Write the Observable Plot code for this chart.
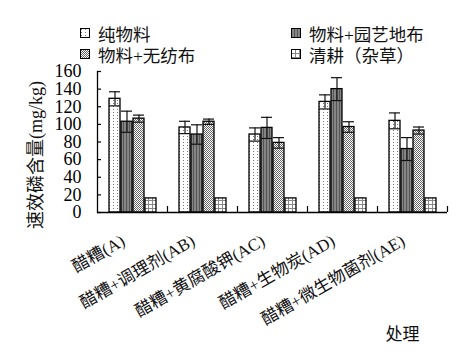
<!DOCTYPE html>
<html><head><meta charset="utf-8">
<script src="https://cdn.jsdelivr.net/npm/d3@7"></script>
<script src="https://cdn.jsdelivr.net/npm/@observablehq/plot@0.6"></script>
<style>
body{margin:0;background:#fff;}
#wrap{position:relative;width:460px;height:352px;overflow:hidden;}
.leg{position:absolute;display:flex;align-items:center;height:22px;font:17.5px "Liberation Serif","Noto Sans CJK SC",serif;color:#111;white-space:nowrap;}
.leg svg{margin-right:8px;}
#ylab{position:absolute;left:34px;top:155px;transform:translate(-50%,-50%) rotate(-90deg);font:18px "Liberation Serif","Noto Sans CJK SC",serif;color:#111;white-space:nowrap;}
</style></head><body><div id="wrap"></div>
<script>
const categories = ["醋糟(A)","醋糟+调理剂(AB)","醋糟+黄腐酸钾(AC)","醋糟+生物炭(AD)","醋糟+微生物菌剂(AE)"];
const seriesNames = ["纯物料","物料+园艺地布","物料+无纺布","清耕（杂草）"];
const pureMaterial = [129, 96.5, 88.5, 125.5, 104];
const gardenCloth  = [103, 88.5, 96, 140, 72];
const nonWoven     = [106.5, 103, 79, 97, 93];
const clearTillage = [16, 16, 16, 16, 16];
const errPure      = [8, 7, 7.5, 8, 9];
const errGarden    = [12, 11, 12, 13, 13];
const errNonWoven  = [4, 3, 6, 6, 4];
const errClear     = [0, 0, 0, 0, 0];
const yTicks = [0, 20, 40, 60, 80, 100, 120, 140, 160];
const yLabel = "速效磷含量(mg/kg)";
const xLabel = "处理";

const values = [pureMaterial, gardenCloth, nonWoven, clearTillage];
const errs = [errPure, errGarden, errNonWoven, errClear];
const rows = [];
categories.forEach((c, i) => seriesNames.forEach((s, j) => rows.push({cat: c, series: s, value: values[j][i], err: errs[j][i]})));
const errRows = rows.filter(d => d.err > 0);
const patterns = ["url(#p0)", "url(#p1)", "url(#p2)", "url(#p3)"];
const FONT = '"Liberation Serif","Noto Sans CJK SC",serif';

const chart = Plot.plot({
  width: 460, height: 352,
  marginLeft: 97, marginRight: 13, marginTop: 71, marginBottom: 140,
  style: {fontFamily: FONT, fontSize: "18px", color: "#000", background: "#fff"},
  fx: {domain: categories, padding: 0, axis: null},
  x: {domain: seriesNames, paddingInner: 0.1, paddingOuter: 0.9, axis: null},
  y: {domain: [0, 160], axis: null},
  color: {domain: seriesNames, range: patterns},
  marks: [
    Plot.barY(rows, {fx: "cat", x: "series", y: "value", fill: "series", stroke: "#000", strokeWidth: 1.3}),
    Plot.ruleX(errRows, {fx: "cat", x: "series", y1: d => d.value - d.err, y2: d => d.value + d.err, stroke: "#111", strokeWidth: 1.2}),
    Plot.tickY(errRows, {fx: "cat", x: "series", y: d => d.value + d.err, stroke: "#111", strokeWidth: 1.2}),
    Plot.tickY(errRows, {fx: "cat", x: "series", y: d => d.value - d.err, stroke: "#111", strokeWidth: 1.2}),
    Plot.ruleY([0], {stroke: "#000", strokeWidth: 1.3}),
    Plot.frame({anchor: "left", facetAnchor: "left", stroke: "#000", strokeWidth: 1.3}),
    Plot.axisY(yTicks, {tickSize: 0, tickPadding: 16, fontSize: 18, fill: "#000", label: null}),
    Plot.axisY(yTicks, {tickSize: -4, text: null, label: null, stroke: "#000", strokeWidth: 1.2}),
    Plot.axisFx({anchor: "bottom", tickSize: -6, text: null, label: null, dx: 35, stroke: "#000", strokeWidth: 1.2}),
    Plot.axisFx({anchor: "bottom", tickSize: 0, tickPadding: 27, tickRotate: -30, fontSize: 17, dx: -9, label: null, fill: "#111"}),
    Plot.text([xLabel], {fx: [categories[categories.length - 1]], text: d => d, frameAnchor: "bottom", dx: -10, dy: 127, fontSize: 17, fill: "#111"})
  ]
});

const defs = `
<pattern id="p0" patternUnits="userSpaceOnUse" width="4" height="3"><rect width="4" height="3" fill="#fff"/><rect x="1" y="1" width="1" height="1" fill="#777"/></pattern>
<pattern id="p1" patternUnits="userSpaceOnUse" width="3" height="3"><rect width="3" height="3" fill="#858585"/><rect x="0" width="1" height="3" fill="#555"/></pattern>
<pattern id="p2" patternUnits="userSpaceOnUse" width="2" height="2"><rect width="2" height="2" fill="#fff"/><rect width="1" height="1" fill="#666"/><rect x="1" y="1" width="1" height="1" fill="#666"/></pattern>
<pattern id="p3" patternUnits="userSpaceOnUse" width="4" height="4"><rect width="4" height="4" fill="#fff"/><rect width="4" height="1" fill="#888"/><rect width="1" height="4" fill="#888"/></pattern>`;
d3.select(chart).insert("defs", ":first-child").html(defs);

const wrap = document.getElementById("wrap");
wrap.appendChild(chart);

const yl = document.createElement("div");
yl.id = "ylab";
yl.textContent = yLabel;
wrap.appendChild(yl);

const legPos = [[80, 22], [291, 22], [80, 43], [291, 43]];
seriesNames.forEach((s, j) => {
  const div = document.createElement("div");
  div.className = "leg";
  div.style.left = legPos[j][0] + "px";
  div.style.top = legPos[j][1] + "px";
  div.innerHTML = `<svg width="10" height="10"><rect x="0.5" y="0.5" width="9" height="9" fill="${patterns[j]}" stroke="#000" stroke-width="1"/></svg><span>${s}</span>`;
  wrap.appendChild(div);
});
</script></body></html>
